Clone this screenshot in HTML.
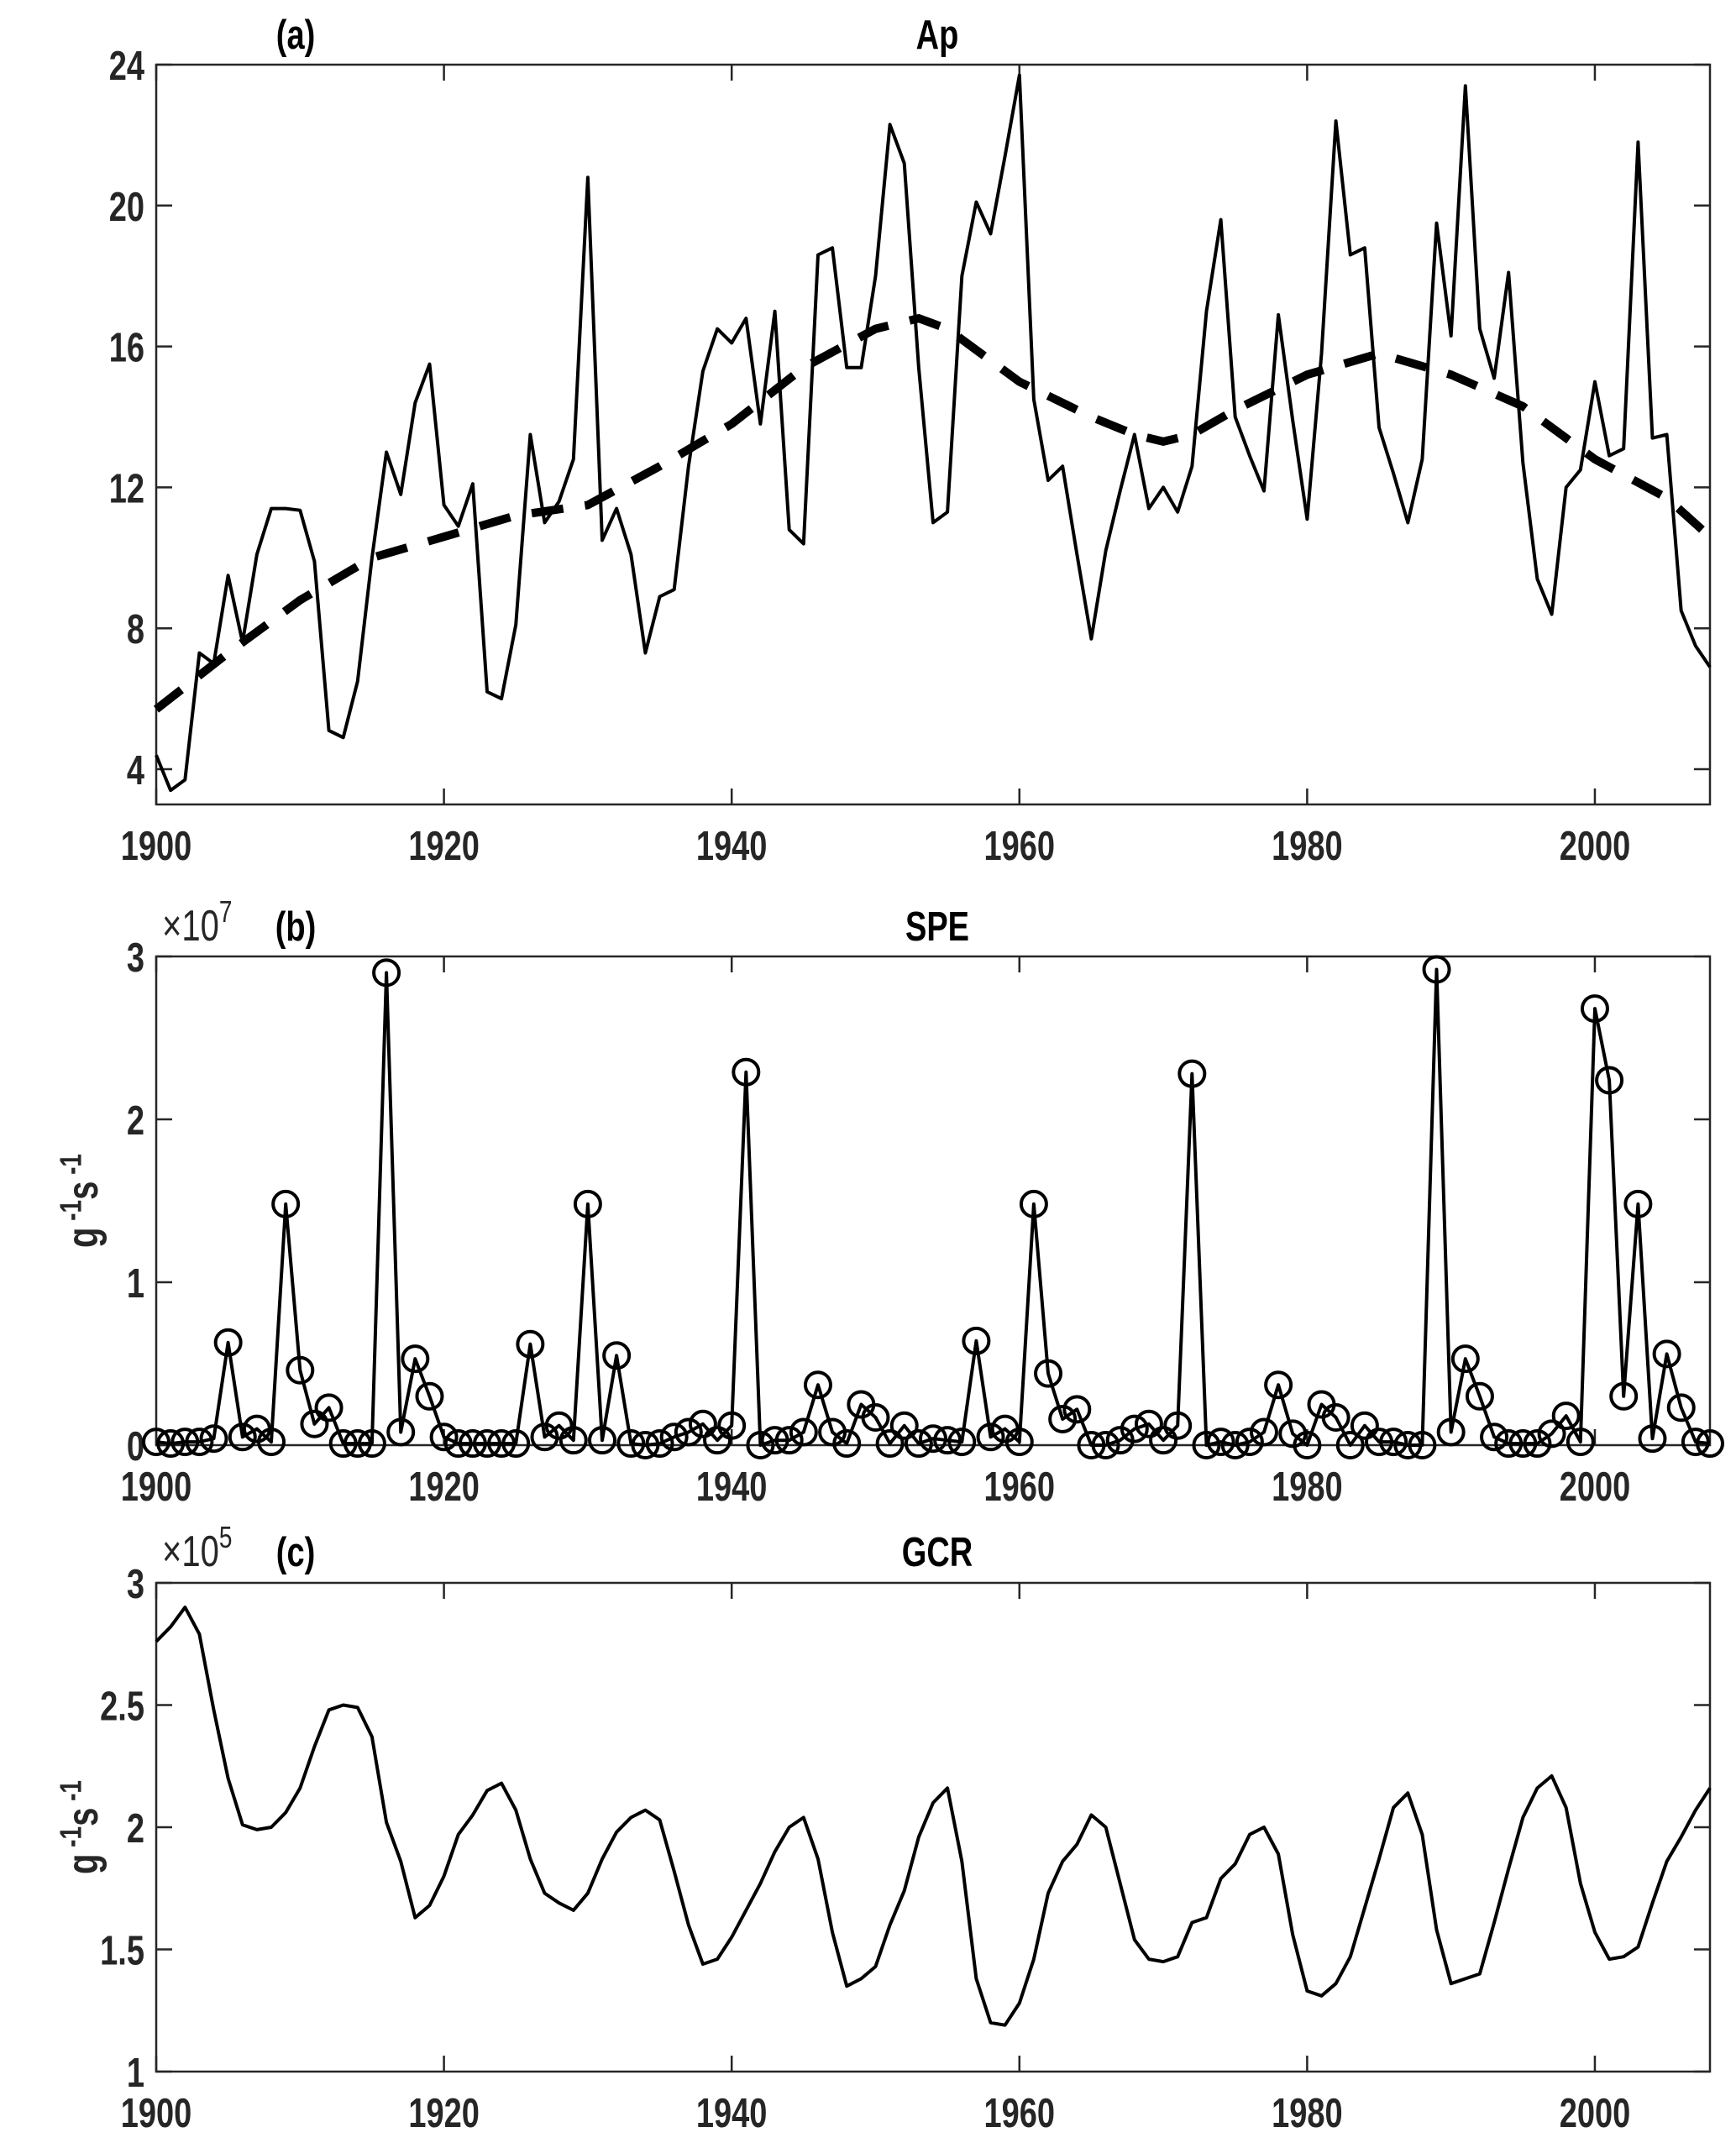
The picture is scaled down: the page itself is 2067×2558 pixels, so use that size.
<!DOCTYPE html>
<html><head><meta charset="utf-8">
<style>
html,body{margin:0;padding:0;background:#fff;}
svg{display:block;font-family:"Liberation Sans",Arial,sans-serif;font-weight:bold;}
</style></head>
<body>
<svg id="fig" width="2067" height="2558" viewBox="0 0 2067 2558" xmlns="http://www.w3.org/2000/svg"></svg>
<script>
const years = [];
for (let y = 1900; y <= 2008; y++) years.push(y);
const xTicks = [1900, 1920, 1940, 1960, 1980, 2000];

const apValues = [4.4,3.4,3.7,7.3,7.0,9.5,7.6,10.1,11.4,11.4,11.35,9.9,5.1,4.9,6.5,10.0,13.0,11.8,14.4,15.5,
11.5,10.9,12.1,6.2,6.0,8.1,13.5,11.0,11.6,12.8,20.8,10.5,11.4,10.1,7.3,8.9,9.1,12.6,15.3,16.5,
16.1,16.8,13.8,17.0,10.8,10.4,18.6,18.8,15.4,15.4,18.0,22.3,21.2,15.4,11.0,11.3,18.0,20.1,19.2,21.4,
23.7,14.5,12.2,12.6,10.1,7.7,10.2,11.9,13.5,11.4,12.0,11.3,12.6,17.0,19.6,14.0,12.9,11.9,16.9,13.9,
11.1,15.8,22.4,18.6,18.8,13.7,12.4,11.0,12.8,19.5,16.3,23.4,16.5,15.1,18.1,12.7,9.4,8.4,12.0,12.5,
15.0,12.9,13.1,21.8,13.4,13.5,8.5,7.5,6.9];
const trendYears = [1900,1905,1910,1915,1920,1925,1930,1935,1940,1945,1950,1953,1955,1960,1965,1968,1970,1972,1975,1980,1985,1990,1995,2000,2005,2008];
const trendValues = [5.7,7.3,8.8,10.0,10.6,11.2,11.5,12.6,13.8,15.4,16.5,16.8,16.5,15.0,14.0,13.5,13.3,13.5,14.2,15.2,15.8,15.2,14.3,12.8,11.7,10.6];
const apTicks = [4, 8, 12, 16, 20, 24];

const speValues = [0.02,0.01,0.02,0.02,0.04,0.63,0.05,0.1,0.02,1.48,0.46,0.13,0.23,0.01,0.01,0.01,2.9,0.08,0.53,0.3,
0.05,0.01,0.01,0.01,0.01,0.01,0.62,0.05,0.12,0.03,1.48,0.03,0.55,0.01,0.0,0.01,0.05,0.08,0.13,0.03,
0.12,2.29,0.0,0.03,0.03,0.08,0.37,0.08,0.01,0.25,0.17,0.01,0.12,0.01,0.04,0.03,0.02,0.64,0.05,0.1,
0.02,1.48,0.44,0.16,0.22,0.0,0.0,0.03,0.1,0.13,0.03,0.12,2.28,0.0,0.02,0.0,0.02,0.08,0.37,0.07,
0.0,0.25,0.17,0.0,0.12,0.02,0.02,0.0,0.0,2.92,0.08,0.53,0.3,0.05,0.01,0.01,0.01,0.07,0.18,0.02,
2.68,2.24,0.3,1.48,0.04,0.56,0.23,0.02,0.01];
const speTicks = [0, 1, 2, 3];

const gcrValues = [2.76,2.82,2.9,2.79,2.48,2.2,2.01,1.99,2.0,2.06,2.16,2.33,2.48,2.5,2.49,2.37,2.02,1.86,1.63,1.68,
1.8,1.97,2.05,2.15,2.18,2.07,1.87,1.73,1.69,1.66,1.73,1.87,1.98,2.04,2.07,2.03,1.82,1.6,1.44,1.46,
1.55,1.66,1.77,1.9,2.0,2.04,1.87,1.57,1.35,1.38,1.43,1.6,1.74,1.96,2.1,2.16,1.86,1.38,1.2,1.19,
1.28,1.46,1.73,1.86,1.93,2.05,2.0,1.77,1.54,1.46,1.45,1.47,1.61,1.63,1.79,1.85,1.97,2.0,1.89,1.56,
1.33,1.31,1.36,1.47,1.67,1.87,2.08,2.14,1.97,1.58,1.36,1.38,1.4,1.61,1.83,2.04,2.16,2.21,2.08,1.77,
1.57,1.46,1.47,1.51,1.69,1.86,1.96,2.07,2.16];
const gcrTicks = [1, 1.5, 2, 2.5, 3];
const gcrTickLabels = ["1","1.5","2","2.5","3"];

const NS = "http://www.w3.org/2000/svg";
const svg = document.getElementById('fig');
const SY = 1.3;
function mk(tag, attrs, parent, text) {
  const e = document.createElementNS(NS, tag);
  for (const k in attrs) e.setAttribute(k, attrs[k]);
  if (text !== undefined) e.textContent = text;
  (parent || svg).appendChild(e);
  return e;
}
function stxt(parent, x, y, attrs, text) {
  const t = mk('text', Object.assign({x: 0, y: 0, transform: 'translate(' + x + ',' + y + ') scale(1,' + SY + ')'}, attrs), parent, text);
  return t;
}
const L = 186, R = 2036, X0 = 1900, X1 = 2008;
const xs = v => L + (v - X0) / (X1 - X0) * (R - L);

function panel(key, top, bottom, y0, y1, ticks, labels) {
  const g = mk('g', {});
  
  
  const ys = v => bottom - (v - y0) / (y1 - y0) * (bottom - top);
  const ax = mk('g', {stroke: '#262626', 'stroke-width': 2.5, fill: 'none'}, g);
  
  
  mk('rect', {x: L, y: top, width: R - L, height: bottom - top}, ax);
  xTicks.forEach(t => {
    const x = xs(t);
    mk('line', {x1: x, y1: bottom, x2: x, y2: bottom - 19}, ax);
    mk('line', {x1: x, y1: top, x2: x, y2: top + 19}, ax);
    const tl = stxt(g, x, bottom + 66, {'text-anchor': 'middle', 'font-size': 38, fill: '#262626'}, String(t));
    
    
  });
  ticks.forEach((t, i) => {
    const y = ys(t);
    mk('line', {x1: L, y1: y, x2: L + 19, y2: y}, ax);
    mk('line', {x1: R, y1: y, x2: R - 19, y2: y}, ax);
    const tl = stxt(g, L - 14, y + 18, {'text-anchor': 'end', 'font-size': 38, fill: '#262626'}, labels ? labels[i] : String(t));
    
    
  });
  return {g, ys};
}
function series(p, vals, name) {
  const pts = vals.map((v, i) => xs(years[i]).toFixed(1) + ',' + p.ys(v).toFixed(1)).join(' ');
  const l = mk('polyline', {points: pts, fill: 'none', stroke: '#000', 'stroke-width': 4, 'stroke-linejoin': 'round'}, p.g);
  
  
}
function title(p, x, y, txt, name) {
  const t = stxt(p.g, x, y, {'text-anchor': 'middle', 'font-size': 38, fill: '#000'}, txt);
  
  
  return t;
}
function ylabel(p, top, bottom, name) {
  const cy = (top + bottom) / 2;
  const t = mk('text', {x: 0, y: 0, transform: 'translate(116,' + cy + ') rotate(-90) scale(1,' + SY + ')', 'text-anchor': 'middle', 'font-size': 40, fill: '#262626'}, p.g);
  
  
  mk('tspan', {}, t, 'g');
  mk('tspan', {dy: -15, 'font-size': 28}, t, ' -1');
  mk('tspan', {dy: 15}, t, 's');
  mk('tspan', {dy: -15, 'font-size': 28}, t, ' -1');
}
function mult(p, x, y, exp, name) {
  const t = stxt(p.g, x, y, {'font-size': 40, fill: '#262626', 'font-weight': 'normal'});
  
  
  mk('tspan', {}, t, '×10');
  mk('tspan', {dy: -17, 'font-size': 28}, t, exp);
}

// Panel a
const pa = panel('ap', 77, 958, 3, 24, apTicks);
series(pa, apValues, 'ap-series');
const tpts = trendValues.map((v, i) => xs(trendYears[i]).toFixed(1) + ',' + pa.ys(v).toFixed(1));
const trend = mk('polyline', {points: tpts.join(' '), fill: 'none', stroke: '#000', 'stroke-width': 10, 'stroke-dasharray': '38 26'}, pa.g);


title(pa, 1116, 58, 'Ap', 'ap-title');
title(pa, 352, 58, '(a)', 'panel-a-label');

// Panel b
const pb = panel('spe', 1139, 1721, 0, 3, speTicks);
series(pb, speValues, 'spe-series');
speValues.forEach((v, i) => {
  const c = mk('circle', {cx: xs(years[i]), cy: pb.ys(v), r: 15, fill: 'none', stroke: '#000', 'stroke-width': 4}, pb.g);
  
  
});
title(pb, 1116, 1120, 'SPE', 'spe-title');
mult(pb, 193, 1120, '7', 'spe-exponent');
title(pb, 352, 1120, '(b)', 'panel-b-label');
ylabel(pb, 1139, 1721, 'spe-y-axis-title');

// Panel c
const pc = panel('gcr', 1885, 2467, 1, 3, gcrTicks, gcrTickLabels);
series(pc, gcrValues, 'gcr-series');
title(pc, 1116, 1865, 'GCR', 'gcr-title');
mult(pc, 193, 1865, '5', 'gcr-exponent');
title(pc, 352, 1865, '(c)', 'panel-c-label');
ylabel(pc, 1885, 2467, 'gcr-y-axis-title');
</script>
</body></html>
